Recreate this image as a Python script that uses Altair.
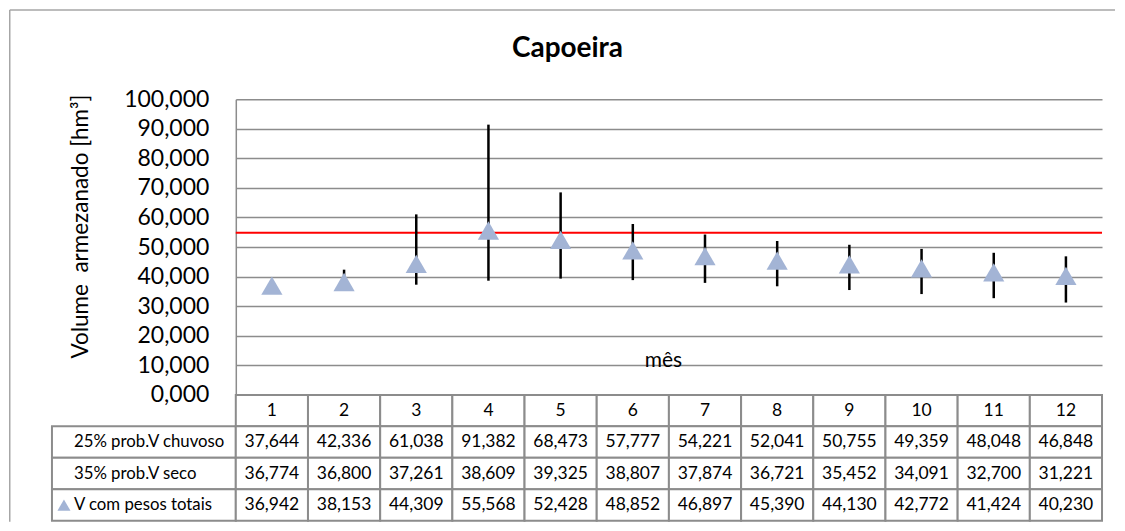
import altair as alt
import pandas as pd

# ---- data ----
months = list(range(1, 13))
chuvoso_25 = [37.644, 42.336, 61.038, 91.382, 68.473, 57.777, 54.221, 52.041, 50.755, 49.359, 48.048, 46.848]
seco_35 = [36.774, 36.800, 37.261, 38.609, 39.325, 38.807, 37.874, 36.721, 35.452, 34.091, 32.700, 31.221]
pesos_totais = [36.942, 38.153, 44.309, 55.568, 52.428, 48.852, 46.897, 45.390, 44.130, 42.772, 41.424, 40.230]
ref_level = [54.8]
row_labels = ["25% prob.V chuvoso", "35% prob.V seco", "V com pesos totais"]
y_ticks = [0, 10, 20, 30, 40, 50, 60, 70, 80, 90, 100]
chart_title = "Capoeira"
y_title = "Volume\u00a0 armezanado [hm³]"
x_title = "mês"

FONT = "Lato"
GRID = "#8c8c8c"
TRI = "#a3b4d5"
W, H, TH = 867, 296, 126


def br(v):
    return f"{v:.3f}".replace(".", ",")


main_df = pd.DataFrame({"month": months, "chuvoso": chuvoso_25, "seco": seco_35, "pesos": pesos_totais})
ref_df = pd.DataFrame({"ref": ref_level})

xenc = alt.X("month:O", scale=alt.Scale(type="band", domain=months, paddingInner=0, paddingOuter=0), axis=None)
yaxis = alt.Axis(
    values=y_ticks, labelExpr="replace(format(datum.value, '.3f'), '.', ',')",
    grid=True, gridColor=GRID, gridWidth=1.5, domainColor=GRID, domainWidth=1.5,
    ticks=False, labelFontSize=23, labelFont=FONT, labelColor="black", labelPadding=27,
    title=y_title, titleFont=FONT, titleFontSize=22.5, titleFontWeight="normal", titleColor="black",
    titleAngle=-90, titleX=-155, titleY=127, titleAlign="center", titleBaseline="middle",
)
yscale = alt.Scale(domain=[0, 100], nice=False)

err = alt.Chart(main_df).mark_rule(color="black", strokeWidth=2.5).encode(
    x=xenc, y=alt.Y("seco:Q", scale=yscale, axis=yaxis), y2="chuvoso:Q")
pts = alt.Chart(main_df).mark_point(shape="triangle-up", filled=True, size=450, color=TRI, opacity=1).encode(
    x=xenc, y=alt.Y("pesos:Q", scale=yscale, axis=yaxis))
ref = alt.Chart(ref_df).mark_rule(color="#ff0000", strokeWidth=2).encode(
    y=alt.Y("ref:Q", scale=yscale, axis=yaxis))
xlab = alt.Chart(pd.DataFrame({"t": [x_title]})).mark_text(
    font=FONT, fontSize=21, color="black", baseline="alphabetic", align="center").encode(
    text="t:N", x=alt.value(428), y=alt.value(268))
ttl = alt.Chart(pd.DataFrame({"t": [chart_title]})).mark_text(
    font=FONT, fontSize=28, fontWeight="bold", color="black", baseline="alphabetic", align="center").encode(
    text="t:N", x=alt.value(332), y=alt.value(-42))
border_top = alt.Chart(pd.DataFrame({"t": [1]})).mark_rule(color="#a6a6a6", strokeWidth=1.5).encode(
    x=alt.value(-226.25), x2=alt.value(880), y=alt.value(-89.25))
border_left = alt.Chart(pd.DataFrame({"t": [1]})).mark_rule(color="#a6a6a6", strokeWidth=1.5).encode(
    x=alt.value(-226.25), y=alt.value(-89.25), y2=alt.value(H + TH + 1))

main = alt.layer(border_top, border_left, ref, err, pts, xlab, ttl).properties(width=W, height=H)

# ---- data table ----
row_order = ["header"] + row_labels
recs = []
for m in months:
    recs.append({"row": "header", "month": m, "label": str(m)})
for lab, vals in zip(row_labels, [chuvoso_25, seco_35, pesos_totais]):
    for m, v in zip(months, vals):
        recs.append({"row": lab, "month": m, "label": br(v)})
table_df = pd.DataFrame(recs)
lab_df = pd.DataFrame({"row": row_labels, "label": row_labels})
key_df = pd.DataFrame({"row": [row_labels[2]]})

yt = alt.Y("row:N", scale=alt.Scale(type="band", domain=row_order, paddingInner=0, paddingOuter=0), axis=None)

cells = alt.Chart(table_df).mark_rect(fill="white", stroke=GRID, strokeWidth=2).encode(x=xenc, y=yt)
cell_txt = alt.Chart(table_df).mark_text(font=FONT, fontSize=17.5, color="black").encode(x=xenc, y=yt, text="label:N")
lab_cells = alt.Chart(lab_df).mark_rect(fill="white", stroke=GRID, strokeWidth=2).encode(
    x=alt.value(-184), x2=alt.value(0), y=yt)
lab_txt = alt.Chart(lab_df).mark_text(font=FONT, fontSize=16.8, color="black", align="left").encode(
    x=alt.value(-162), y=yt, text="label:N")
key = alt.Chart(key_df).mark_point(shape="triangle-up", filled=True, size=170, color=TRI, opacity=1).encode(
    x=alt.value(-172), y=yt)

table = alt.layer(lab_cells, cells, lab_txt, cell_txt, key).properties(width=W, height=TH)

chart = alt.vconcat(main, table, spacing=0, bounds="flush").properties(
    padding=0, background="white").configure_view(stroke="transparent")

chart.save("out.html", embed_options={"renderer": "svg", "actions": False})
